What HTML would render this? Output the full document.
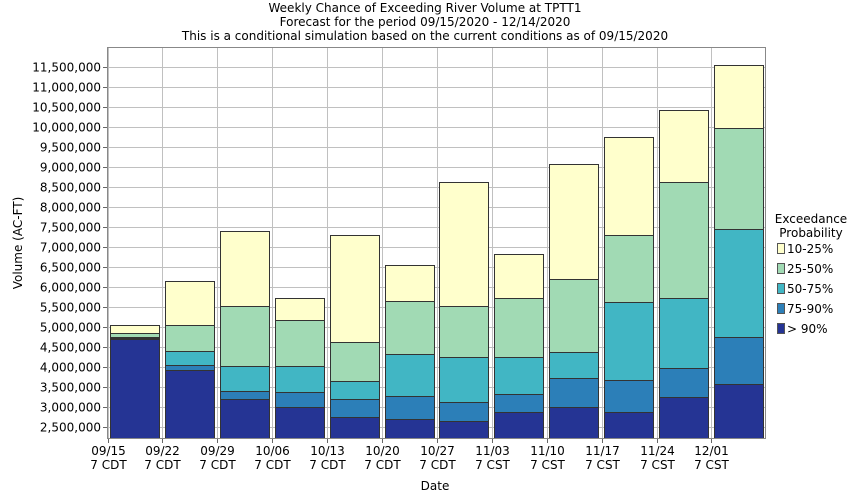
<!DOCTYPE html>
<html><head><meta charset="utf-8"><style>
body{margin:0;background:#fff}
svg{display:block;font-family:"DejaVu Sans","Liberation Sans",sans-serif}
</style></head><body>
<svg width="850" height="500" xmlns="http://www.w3.org/2000/svg">
<rect width="850" height="500" fill="#fff"/>
<g font-size="12" text-anchor="middle" fill="#000">
<text x="425" y="12">Weekly Chance of Exceeding River Volume at TPTT1</text>
<text x="425" y="26">Forecast for the period 09/15/2020 - 12/14/2020</text>
<text x="425" y="40">This is a conditional simulation based on the current conditions as of 09/15/2020</text>
</g>
<g id="grid" stroke="#c0c0c0" stroke-width="1"></g>
<g id="bars" stroke="#333" stroke-width="1"></g>
<rect x="107.5" y="47.5" width="658" height="391" fill="none" stroke="#888"/>
<g id="ylab" font-size="12" text-anchor="end"></g>
<g id="xlab" font-size="12" text-anchor="middle"></g>
<text x="22" y="243" font-size="12" text-anchor="middle" transform="rotate(-90 22 243)">Volume (AC-FT)</text>
<text x="435" y="490" font-size="12" text-anchor="middle">Date</text>
<g font-size="12">
<text x="811" y="223" text-anchor="middle">Exceedance</text>
<text x="811" y="237" text-anchor="middle">Probability</text>
<rect x="777.5" y="243.5" width="7" height="10" fill="#ffffcc" stroke="#555"/><text x="787" y="253">10-25%</text>
<rect x="777.5" y="263.5" width="7" height="10" fill="#a1dab4" stroke="#555"/><text x="787" y="273">25-50%</text>
<rect x="777.5" y="283.5" width="7" height="10" fill="#41b6c4" stroke="#555"/><text x="787" y="293">50-75%</text>
<rect x="777.5" y="303.5" width="7" height="10" fill="#2c7fb8" stroke="#555"/><text x="787" y="313">75-90%</text>
<rect x="777.5" y="323.5" width="7" height="10" fill="#253494" stroke="#555"/><text x="787" y="333">&gt; 90%</text>
</g>
<script>
var ns="http://www.w3.org/2000/svg";
function el(p,t,a,txt){var e=document.createElementNS(ns,t);for(var k in a)e.setAttribute(k,a[k]);if(txt)e.textContent=txt;p.appendChild(e);return e;}
var g=document.getElementById('grid'),b=document.getElementById('bars'),yl=document.getElementById('ylab'),xl=document.getElementById('xlab');
for(var i=0;i<19;i++){var v=2500000+i*500000,y=427.5-i*20;
el(g,'line',{x1:107,x2:766,y1:y,y2:y});
el(g,'line',{x1:103,x2:108,y1:y,y2:y,stroke:'#666'});
el(yl,'text',{x:101,y:y+4},v.toLocaleString('en-US'));}
var dates=["09/15","09/22","09/29","10/06","10/13","10/20","10/27","11/03","11/10","11/17","11/24","12/01"];
for(var i=0;i<12;i++){var x=Math.round(107.5+54.9*i)+0.5;
el(g,'line',{x1:x,x2:x,y1:47,y2:438});
el(g,'line',{x1:x,x2:x,y1:438,y2:443,stroke:'#666'});
el(xl,'text',{x:x,y:455},dates[i]);
el(xl,'text',{x:x,y:469},i<7?"7 CDT":"7 CST");}
var d=[[325,333,337,338,339],[281,325,351,365,370],[231,306,366,391,399],[298,320,366,392,407],[235,342,381,399,417],[265,301,354,396,419],[182,306,357,402,421],[254,298,357,394,412],[164,279,352,378,407],[137,235,302,380,412],[110,182,298,368,397],[65,128,229,337,384]];
var c=["#ffffcc","#a1dab4","#41b6c4","#2c7fb8","#253494"];
for(var i=0;i<12;i++){var x=Math.round(110+54.9*i)+0.5;
for(var j=0;j<5;j++){var t=d[i][j],bt=j<4?d[i][j+1]:438;
el(b,'rect',{x:x,y:t+0.5,width:49,height:Math.max(bt-t,0.5),fill:c[j]});}}
</script>
</svg>
</body></html>
